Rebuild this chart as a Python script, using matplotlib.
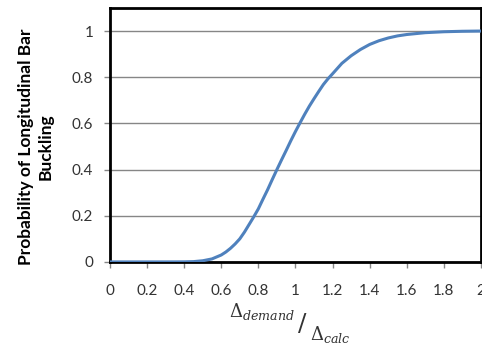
import matplotlib
matplotlib.use("Agg")
import matplotlib.pyplot as plt

# Values
ratio = [0.0, 0.1, 0.2, 0.3, 0.35, 0.4, 0.45, 0.5, 0.55, 0.6, 0.625, 0.65,
         0.675, 0.7, 0.725, 0.75, 0.775, 0.8, 0.825, 0.85, 0.875, 0.9, 0.925,
         0.95, 0.975, 1.0, 1.025, 1.05, 1.075, 1.1, 1.125, 1.15, 1.175, 1.2,
         1.25, 1.3, 1.35, 1.4, 1.45, 1.5, 1.55, 1.6, 1.7, 1.8, 1.9, 2.0]
prob = [0.0, 0.0, 0.0, 0.0, 0.0001, 0.0003, 0.0013, 0.005, 0.013, 0.03, 0.043,
        0.059, 0.078, 0.10, 0.129, 0.162, 0.195, 0.23, 0.272, 0.313, 0.357,
        0.40, 0.442, 0.483, 0.525, 0.565, 0.603, 0.64, 0.675, 0.707, 0.738,
        0.768, 0.793, 0.815, 0.86, 0.893, 0.92, 0.942, 0.958, 0.97, 0.979,
        0.985, 0.993, 0.997, 0.999, 1.0]
xticks = [0, 0.2, 0.4, 0.6, 0.8, 1, 1.2, 1.4, 1.6, 1.8, 2]
xticklabels = ["0", "0.2", "0.4", "0.6", "0.8", "1", "1.2", "1.4", "1.6", "1.8", "2"]
yticks = [0, 0.2, 0.4, 0.6, 0.8, 1]
yticklabels = ["0", "0.2", "0.4", "0.6", "0.8", "1"]

plt.rcParams['font.family'] = ['Lato', 'DejaVu Sans']
plt.rcParams['mathtext.fontset'] = 'dejavuserif'

fig = plt.figure(figsize=(4.82, 3.46), dpi=100)
ax = fig.add_axes([0.228, 0.243, 0.77, 0.734])

ax.plot(ratio, prob, color='#4f81bd', lw=2.2, solid_capstyle='butt', zorder=3)

ax.set_xlim(0, 2)
ax.set_ylim(0, 1.1)
ax.set_xticks(xticks)
ax.set_xticklabels(xticklabels)
ax.set_yticks(yticks)
ax.set_yticklabels(yticklabels)
ax.tick_params(axis='both', direction='out', length=4, width=1, color='#868686',
               labelsize=11, labelcolor='#333333', pad=8)
ax.tick_params(axis='x', pad=12)
ax.grid(axis='y', color='#868686', lw=1)
ax.set_axisbelow(True)
for s in ax.spines.values():
    s.set_color('black')
    s.set_linewidth(2)

fig.text(0.075, 0.575, "Probability of Longitudinal Bar\nBuckling", rotation=90,
         ha='center', va='center', fontsize=12.5, fontweight='bold',
         multialignment='center', linespacing=1.3)

fig.text(0.543, 0.10, r"$\Delta_{demand}$", ha='center', va='center',
         fontsize=13, color='#333333')
fig.text(0.627, 0.062, "/", ha='center', va='center', fontsize=18,
         color='#333333', family='DejaVu Serif')
fig.text(0.685, 0.032, r"$\Delta_{calc}$", ha='center', va='center',
         fontsize=13, color='#333333')

fig.savefig("out.png", dpi=100)
